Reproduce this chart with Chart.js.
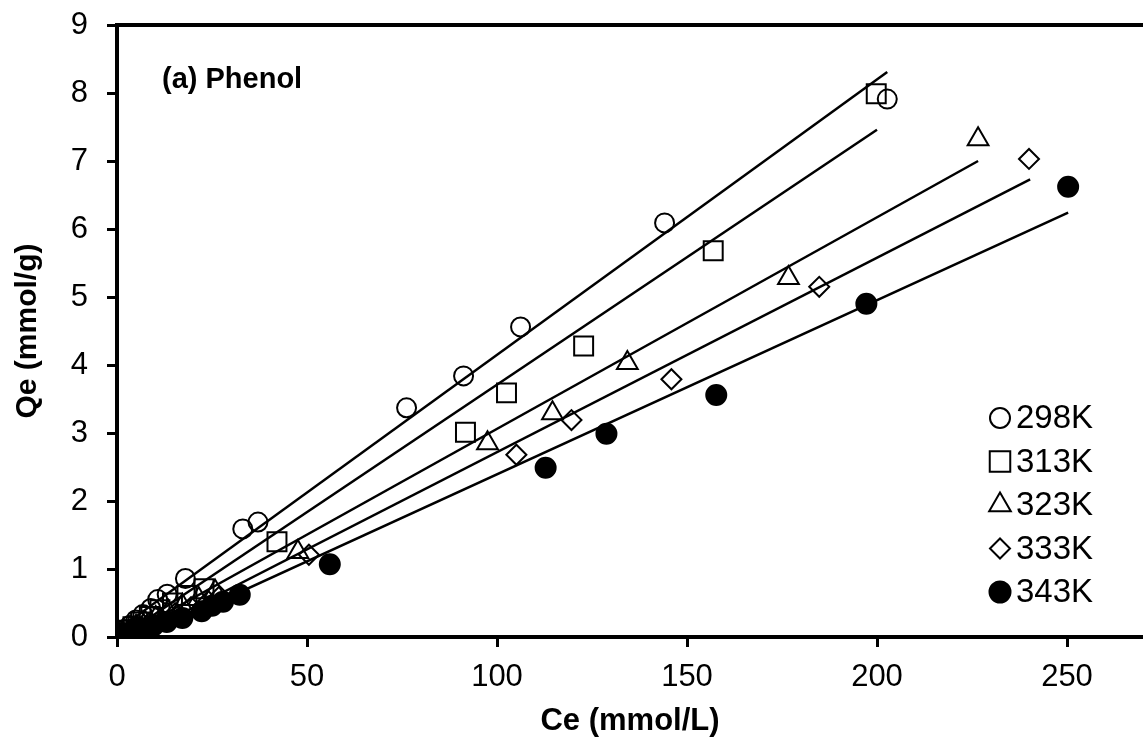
<!doctype html>
<html>

<head>
	<title>Phenol adsorption isotherms</title>
	<script src="https://cdn.jsdelivr.net/npm/chart.js@4/dist/chart.umd.min.js"></script>
	<style>
		html, body { margin: 0; padding: 0; background: #fff; overflow: hidden; }
		canvas { display: block; }
	</style>
</head>

<body>
	<canvas id="chart-area" width="1143" height="740"></canvas>

	<script>
		// measured points, Ce (mmol/L) vs Qe (mmol/g)
		const ce298 = [0.3, 1.0, 2.1, 3.4, 5.0, 6.8, 8.9, 10.7, 13.2, 18.0, 33.1, 37.1, 76.2, 91.2, 106.2, 144.1, 202.7];
		const qe298 = [0.02, 0.06, 0.11, 0.17, 0.25, 0.33, 0.42, 0.55, 0.63, 0.86, 1.59, 1.69, 3.37, 3.84, 4.56, 6.09, 7.91];
		const ce313 = [0.4, 1.3, 2.6, 4.2, 6.2, 8.5, 11.3, 14.6, 18.4, 22.9, 42.1, 91.7, 102.5, 122.8, 156.9, 199.8];
		const qe313 = [0.02, 0.05, 0.10, 0.15, 0.22, 0.30, 0.40, 0.50, 0.61, 0.71, 1.40, 3.01, 3.59, 4.28, 5.68, 7.99];
		const ce323 = [0.5, 1.6, 3.1, 5.0, 7.4, 10.2, 13.5, 17.2, 21.5, 25.8, 47.6, 97.5, 114.6, 134.3, 176.7, 226.6];
		const qe323 = [0.02, 0.05, 0.09, 0.15, 0.21, 0.28, 0.37, 0.46, 0.56, 0.67, 1.25, 2.85, 3.29, 4.03, 5.28, 7.32];
		const ce333 = [0.6, 1.8, 3.5, 5.7, 8.4, 11.6, 15.3, 19.5, 24.0, 27.0, 50.5, 105.1, 119.6, 145.9, 184.8, 240.0];
		const qe333 = [0.02, 0.05, 0.09, 0.14, 0.20, 0.27, 0.35, 0.44, 0.53, 0.60, 1.21, 2.68, 3.19, 3.79, 5.15, 7.03];
		const ce343 = [0.7, 2.0, 4.0, 6.5, 9.6, 13.1, 17.2, 22.3, 25.0, 27.9, 32.3, 56.0, 112.8, 128.8, 157.7, 197.2, 250.3];
		const qe343 = [0.02, 0.05, 0.08, 0.12, 0.17, 0.22, 0.28, 0.38, 0.46, 0.52, 0.62, 1.07, 2.49, 2.99, 3.56, 4.90, 6.62];

		// fitted lines, start and end points
		const fitCe298 = [0, 202.7];
		const fitQe298 = [0.10, 8.31];
		const fitCe313 = [1.0, 200.0];
		const fitQe313 = [0, 7.46];
		const fitCe323 = [1.6, 226.6];
		const fitQe323 = [0, 7.00];
		const fitCe333 = [4.9, 240.3];
		const fitQe333 = [0, 6.73];
		const fitCe343 = [6.6, 250.3];
		const fitQe343 = [0, 6.24];

		const labels = ['298K', '313K', '323K', '333K', '343K'];
		const xTicks = [0, 50, 100, 150, 200, 250];

		const FONT = '"Liberation Sans", Arial, Helvetica, sans-serif';
		Chart.defaults.font.family = FONT;
		Chart.defaults.color = '#000';

		const pts = (xs, ys) => xs.map((x, i) => ({ x: x, y: ys[i] }));

		function marks(label, xs, ys, style, radius, fill, legendRadius) {
			return {
				label: label,
				data: pts(xs, ys),
				showLine: false,
				pointStyle: style,
				pointRadius: radius,
				pointBorderWidth: 2,
				pointBorderColor: '#000',
				pointBackgroundColor: fill,
				backgroundColor: fill,
				legendRadius: legendRadius
			};
		}

		function fit(xs, ys) {
			return {
				data: pts(xs, ys),
				showLine: true,
				borderColor: '#000',
				borderWidth: 2.5,
				pointRadius: 0,
				fill: false
			};
		}

		// keep the plot frame where the reference has it
		function noEdgePadding(scale) {
			scale.paddingTop = 0;
			scale.paddingBottom = 0;
			scale.paddingLeft = 0;
			scale.paddingRight = 0;
		}

		const markerLegend = {
			id: 'markerLegend',
			afterDatasetsDraw(chart) {
				const ctx = chart.ctx;
				const items = chart.data.datasets.filter(d => !d.showLine);
				ctx.save();
				ctx.font = '33px ' + FONT;
				ctx.textBaseline = 'middle';
				ctx.textAlign = 'left';
				items.forEach((d, i) => {
					const y = 418 + i * 43.5;
					ctx.fillStyle = d.backgroundColor;
					ctx.strokeStyle = '#000';
					ctx.lineWidth = 2;
					Chart.helpers.drawPoint(ctx, {
						pointStyle: d.pointStyle,
						radius: d.legendRadius,
						borderWidth: 2,
						rotation: 0
					}, 1000, y);
					ctx.fillStyle = '#000';
					ctx.fillText(d.label, 1016, y + 1);
				});
				// panel tag
				ctx.font = 'bold 29px ' + FONT;
				ctx.fillText('(a) Phenol', 162, 80);
				ctx.restore();
			}
		};

		const clear = 'rgba(0,0,0,0)';

		const ctx2d = document.getElementById('chart-area').getContext('2d');
		window.isoChart = new Chart(ctx2d, {
			type: 'scatter',
			data: {
				datasets: [
					marks(labels[0], ce298, qe298, 'circle', 9.5, clear, 10),
					marks(labels[1], ce313, qe313, 'rect', 13.4, clear, 14.5),
					marks(labels[2], ce323, qe323, 'triangle', 12, clear, 12.5),
					marks(labels[3], ce333, qe333, 'rectRot', 10, clear, 10),
					marks(labels[4], ce343, qe343, 'circle', 10, '#000', 10.5),
					fit(fitCe298, fitQe298),
					fit(fitCe313, fitQe313),
					fit(fitCe323, fitQe323),
					fit(fitCe333, fitQe333),
					fit(fitCe343, fitQe343)
				]
			},
			options: {
				responsive: false,
				animation: false,
				events: [],
				layout: {
					autoPadding: false,
					padding: { top: 25, left: 0, right: 0, bottom: 0 }
				},
				scales: {
					x: {
						type: 'linear',
						position: 'bottom',
						min: 0,
						max: 270,
						ticks: {
							font: { size: 31 },
							padding: 12
						},
						afterBuildTicks(scale) {
							scale.ticks = xTicks.map(v => ({ value: v }));
						},
						grid: {
							drawOnChartArea: false,
							drawTicks: true,
							tickLength: 10,
							color: '#000',
							lineWidth: 3
						},
						border: { display: true, color: '#000', width: 4 },
						title: {
							display: true,
							text: 'Ce (mmol/L)',
							font: { size: 31, weight: 'bold' },
							padding: { top: 0, bottom: 0 }
						},
						afterFit(scale) {
							scale.height = 103;
							noEdgePadding(scale);
						}
					},
					x2: {
						type: 'linear',
						position: 'top',
						min: 0,
						max: 270,
						ticks: { display: false },
						grid: { display: false, drawTicks: false },
						border: { display: true, color: '#000', width: 4 },
						afterFit(scale) {
							scale.height = 0;
							noEdgePadding(scale);
						}
					},
					y: {
						min: 0,
						max: 9,
						ticks: {
							stepSize: 1,
							font: { size: 31 },
							padding: 19
						},
						grid: {
							drawOnChartArea: false,
							drawTicks: true,
							tickLength: 10,
							color: '#000',
							lineWidth: 3
						},
						border: { display: true, color: '#000', width: 4 },
						title: {
							display: true,
							text: 'Qe (mmol/g)',
							font: { size: 30, weight: 'bold' },
							padding: { top: 10, bottom: 0 }
						},
						afterFit(scale) {
							scale.width = 117;
							noEdgePadding(scale);
						}
					}
				},
				plugins: {
					legend: { display: false },
					tooltip: { enabled: false },
					title: { display: false }
				}
			},
			plugins: [markerLegend]
		});
	</script>
</body>

</html>
